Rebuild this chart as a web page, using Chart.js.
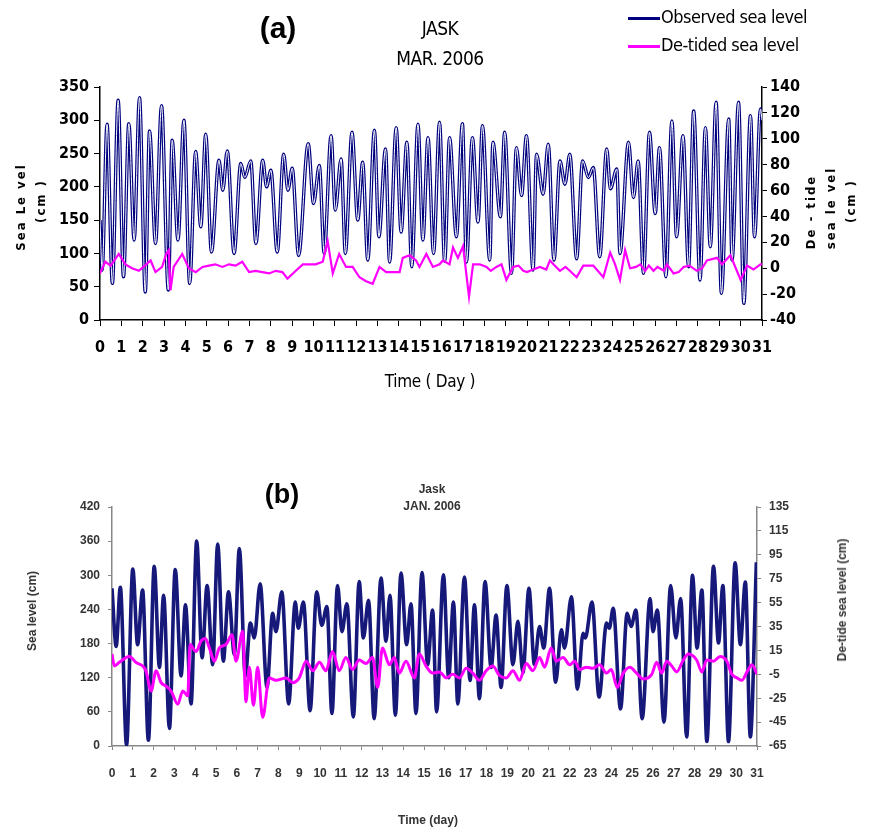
<!DOCTYPE html>
<html>
<head>
<meta charset="utf-8">
<script src="https://cdn.jsdelivr.net/npm/chart.js@4.4.1/dist/chart.umd.min.js"></script>
<style>
  body { margin: 0; background: #fff; }
  #page { position: relative; width: 872px; height: 833px; overflow: hidden; background: #fff; }
  canvas { position: absolute; left: 0; }
  .t { position: absolute; white-space: nowrap; transform: translate(-50%, -50%); }
  .na { font-family: 'Liberation Sans Narrow', 'DejaVu Sans Condensed', sans-serif; color: #000; }
  .ar { font-family: 'Liberation Sans', Arial, sans-serif; color: #333; font-weight: bold; }
  .rot { transform: translate(-50%, -50%) rotate(-90deg); }
  .leg { position: absolute; height: 3px; width: 32px; }
</style>
</head>
<body>
<div id="page">
  <canvas id="chartA" width="872" height="400" style="top:0"></canvas>
  <canvas id="chartB" width="872" height="403" style="top:430px"></canvas>

  <!-- panel (a) texts -->
  <div class="t" style="left:278px;top:28px;font:bold 30px 'Liberation Sans',Arial,sans-serif">(a)</div>
  <div class="t na" style="left:440px;top:28px;font-size:19px;letter-spacing:-0.5px">JASK</div>
  <div class="t na" style="left:440px;top:58px;font-size:19px;letter-spacing:-0.5px">MAR. 2006</div>
  <div class="leg" style="left:628px;top:17px;background:#00007f"></div>
  <div class="na" style="position:absolute;left:661px;top:6px;font-size:18px;letter-spacing:-0.5px">Observed sea level</div>
  <div class="leg" style="left:628px;top:45px;background:#ff00ff"></div>
  <div class="na" style="position:absolute;left:661px;top:34px;font-size:18px;letter-spacing:-0.5px">De-tided sea level</div>
  <div class="t na rot" style="left:20px;top:207px;font-size:13px;font-weight:bold;letter-spacing:2px">Sea Le vel</div>
  <div class="t na rot" style="left:40px;top:201px;font-size:13px;font-weight:bold;letter-spacing:2px">(cm )</div>
  <div class="t na rot" style="left:810px;top:212px;font-size:13px;font-weight:bold;letter-spacing:2px">De - tide</div>
  <div class="t na rot" style="left:830px;top:208px;font-size:13px;font-weight:bold;letter-spacing:2px">sea le vel</div>
  <div class="t na rot" style="left:850px;top:201px;font-size:13px;font-weight:bold;letter-spacing:2px">(cm )</div>
  <div class="t na" style="left:430px;top:381px;font-size:17px;letter-spacing:-0.3px">Time ( Day )</div>

  <!-- panel (b) texts -->
  <div class="t" style="left:282px;top:494px;font:bold 27px 'Liberation Sans',Arial,sans-serif">(b)</div>
  <div class="t ar" style="left:432px;top:489px;font-size:12px">Jask</div>
  <div class="t ar" style="left:432px;top:506px;font-size:12px">JAN. 2006</div>
  <div class="t ar rot" style="left:32px;top:611px;font-size:12px">Sea level (cm)</div>
  <div class="t ar rot" style="left:842px;top:600px;font-size:12px">De-tide sea level (cm)</div>
  <div class="t ar" style="left:428px;top:820px;font-size:12px">Time (day)</div>
</div>

<script>
// (a) JASK, March 2006 - observed sea level (cm), turning points
const obsDayA = [
  0, 0.1, 0.33, 0.58, 0.85, 1.1, 1.35, 1.6, 1.85, 2.12,
  2.32, 2.6, 2.88, 3.2, 3.38, 3.65, 3.93, 4.2, 4.48, 4.72,
  4.95, 5.22, 5.57, 5.75, 5.96, 6.28, 6.59, 6.78, 7.06, 7.3,
  7.62, 7.8, 8.0, 8.3, 8.6, 8.8, 9.0, 9.3, 9.75, 10.0,
  10.27, 10.5, 10.82, 11.02, 11.29, 11.49, 11.8, 12.07, 12.3, 12.54,
  12.85, 13.06, 13.37, 13.56, 13.87, 14.1, 14.37, 14.6, 14.89, 15.12,
  15.36, 15.62, 15.9, 16.14, 16.37, 16.69, 16.97, 17.16, 17.44, 17.7,
  17.91, 18.25, 18.4, 18.75, 18.95, 19.27, 19.5, 19.74, 19.97, 20.28,
  20.44, 20.75, 20.99, 21.26, 21.54, 21.77, 22.0, 22.32, 22.6, 22.87,
  23.1, 23.4, 23.73, 23.9, 24.2, 24.35, 24.75, 24.98, 25.2, 25.45,
  25.73, 26.0, 26.2, 26.5, 26.78, 27.0, 27.3, 27.56, 27.8, 28.1,
  28.35, 28.58, 28.85, 29.1, 29.44, 29.6, 29.9, 30.15, 30.46, 30.65,
  30.93, 31
];
const obsValA = [
  150, 75, 294, 55, 330, 65, 295, 120, 334, 42,
  284, 115, 322, 45, 270, 120, 300, 55, 253, 140,
  279, 102, 240, 195, 254, 100, 235, 214, 239, 115,
  240, 200, 225, 102, 249, 195, 228, 97, 265, 175,
  232, 100, 277, 165, 242, 100, 282, 150, 237, 90,
  285, 125, 257, 87, 289, 132, 267, 80, 294, 120,
  274, 100, 297, 88, 274, 125, 295, 87, 274, 147,
  292, 90, 267, 155, 282, 70, 259, 187, 277, 75,
  249, 189, 264, 90, 239, 204, 249, 92, 239, 214,
  229, 95, 257, 197, 227, 100, 267, 184, 239, 70,
  282, 160, 259, 65, 299, 125, 277, 80, 314, 60,
  289, 110, 327, 40, 302, 90, 327, 25, 307, 125,
  317, 300
];
// (a) de-tided sea level (cm)
const tideDayA = [
  0, 0.25, 0.5, 0.88, 1.19, 1.5, 1.82, 2.1, 2.37, 2.6,
  2.91, 3.1, 3.22, 3.3, 3.45, 3.85, 4.16, 4.48, 4.8, 5.1,
  5.4, 5.73, 6.04, 6.35, 6.66, 6.98, 7.29, 7.6, 7.92, 8.23,
  8.54, 8.78, 9.17, 9.5, 9.8, 10.1, 10.43, 10.66, 10.9, 11.2,
  11.52, 11.83, 12.15, 12.46, 12.77, 13.09, 13.4, 13.71, 14.03, 14.18,
  14.5, 14.8, 14.96, 15.28, 15.59, 15.9, 16.06, 16.37, 16.53, 16.76,
  17.0, 17.28, 17.47, 17.78, 18.1, 18.3, 18.56, 18.8, 19.03, 19.35,
  19.6, 19.82, 20.0, 20.28, 20.6, 20.9, 21.07, 21.3, 21.54, 21.8,
  22.0, 22.32, 22.63, 23.1, 23.57, 23.89, 24.12, 24.35, 24.59, 24.82,
  25.1, 25.3, 25.53, 25.7, 25.92, 26.1, 26.4, 26.55, 26.86, 27.1,
  27.33, 27.6, 27.95, 28.2, 28.42, 28.89, 29.13, 29.52, 30.0, 30.3,
  30.6, 30.93, 31
];
const tideValA = [
  -4, 5, 2, 11, 3, 0, -2, 2, 6, -3,
  1, 11, 14, -17, 1, 11, 0, -3, 1, 2,
  3, 1, 3, 2, 5, -3, -2, -3, -4, -2,
  -3, -8, -2, 3, 3, 3, 5, 21, -4, 11,
  1, 1, -7, -10, -12, 1, -3, -3, -3, 8,
  10, 6, 1, 11, 1, 3, 6, 3, 16, 8,
  17, -22, 3, 3, 1, -2, 1, 3, -9, 1,
  2, -2, -3, -1, 1, -1, 6, 2, -2, 1,
  -2, -7, 2, 2, -7, 12, 3, -9, 14, 0,
  1, 3, -2, 2, -2, 1, -2, 3, -4, -3,
  1, 2, -2, 0, 6, 8, 3, 10, -9, 2,
  -1, 3, 3
];

// (b) Jask, January 2006 - observed sea level (cm)
const obsDayB = [
  0, 0.2, 0.4, 0.7, 1.0, 1.23, 1.47, 1.75, 2.03, 2.28,
  2.48, 2.76, 3.04, 3.32, 3.53, 3.8, 4.07, 4.33, 4.57, 4.84,
  5.08, 5.35, 5.6, 5.88, 6.12, 6.41, 6.65, 6.84, 7.12, 7.45,
  7.72, 7.88, 8.16, 8.49, 8.81, 8.95, 9.2, 9.52, 9.84, 10.08,
  10.33, 10.57, 10.84, 11.05, 11.29, 11.6, 11.88, 12.08, 12.33, 12.6,
  12.93, 13.17, 13.36, 13.62, 13.89, 14.16, 14.37, 14.61, 14.9, 15.17,
  15.41, 15.6, 15.93, 16.18, 16.41, 16.62, 16.94, 17.21, 17.42, 17.66,
  17.93, 18.22, 18.46, 18.7, 18.98, 19.27, 19.51, 19.75, 20.04, 20.3,
  20.55, 20.75, 21.03, 21.32, 21.6, 21.75, 22.08, 22.37, 22.64, 22.75,
  23.07, 23.41, 23.77, 23.9, 24.09, 24.44, 24.76, 24.95, 25.18, 25.48,
  25.86, 26.0, 26.21, 26.53, 26.85, 27.1, 27.33, 27.62, 27.9, 28.12,
  28.35, 28.59, 28.91, 29.15, 29.36, 29.63, 29.95, 30.2, 30.44, 30.68,
  30.97
];
const obsValB = [
  277, 175, 279, 2, 311, 178, 274, 10, 316, 138,
  265, 31, 310, 123, 248, 74, 360, 155, 282, 143,
  355, 149, 271, 161, 347, 123, 216, 190, 285, 103,
  233, 201, 271, 74, 253, 207, 253, 62, 271, 212,
  245, 57, 282, 201, 250, 51, 289, 190, 256, 48,
  295, 184, 265, 54, 304, 178, 250, 57, 305, 143,
  239, 60, 301, 120, 253, 74, 297, 115, 248, 83,
  289, 138, 230, 103, 282, 143, 219, 129, 277, 143,
  210, 172, 277, 112, 204, 172, 262, 100, 198, 190,
  253, 86, 216, 207, 242, 65, 233, 210, 239, 48,
  259, 201, 239, 42, 282, 190, 259, 16, 300, 172,
  274, 8, 316, 181, 282, 8, 322, 178, 288, 16,
  323
];
// (b) de-tided sea level (cm)
const tideDayB = [
  0, 0.11, 0.35, 0.83, 1.15, 1.63, 1.88, 2.12, 2.36, 2.6,
  2.84, 3.16, 3.4, 3.64, 3.75, 4.04, 4.28, 4.49, 4.68, 4.92,
  5.16, 5.48, 5.77, 5.96, 6.28, 6.44, 6.6, 6.8, 7.0, 7.24,
  7.56, 7.88, 8.37, 8.69, 9.0, 9.33, 9.65, 9.97, 10.28, 10.6,
  10.92, 11.24, 11.56, 11.88, 12.2, 12.52, 12.77, 13.0, 13.33, 13.57,
  13.81, 14.13, 14.53, 14.77, 15.09, 15.41, 15.74, 16.06, 16.38, 16.7,
  17.02, 17.34, 17.66, 17.98, 18.3, 18.62, 18.95, 19.27, 19.59, 19.91,
  20.23, 20.55, 20.79, 21.11, 21.35, 21.68, 22.0, 22.24, 22.48, 22.8,
  23.12, 23.44, 23.77, 24.0, 24.28, 24.57, 24.89, 25.21, 25.53, 25.94,
  26.18, 26.42, 26.66, 26.9, 27.14, 27.46, 27.7, 28.1, 28.35, 28.59,
  28.91, 29.23, 29.55, 29.79, 30.04, 30.28, 30.52, 30.76, 31.0
];
const tideValB = [
  12, 2, 5, 10, 5, -2, -19, -2, -12, -15,
  -19, -30, -19, -23, 20, 14, 23, 25, 17, 6,
  17, 20, 28, 6, 31, -28, 1, -31, 1, -41,
  -8, -10, -8, -12, -8, 6, -2, 5, -2, 14,
  -2, 9, -1, 7, 4, 9, -16, 17, 3, 9,
  -4, 6, -8, 12, 2, -4, -3, -8, -5, -8,
  0, -4, -10, -2, 2, -6, -8, -2, -10, 4,
  -2, 9, 1, 17, 6, 9, 3, 6, -1, 1,
  0, 3, -4, -1, -16, -4, 1, -4, -9, -5,
  5, -4, 6, 2, -3, 7, 12, 7, -3, 7,
  6, 10, 6, -5, -8, -10, -3, 3, -5
];

const pts = (days, vals) => days.map((d, i) => ({ x: d, y: vals[i] }));
const narrow = "'Liberation Sans Narrow', 'DejaVu Sans Condensed', sans-serif";
const arial = "'Liberation Sans', Arial, sans-serif";

// panel (a): observed line drawn hollow (navy edge, white core) like the original
new Chart(document.getElementById('chartA'), {
  type: 'line',
  data: {
    datasets: [
      {
        label: 'De-tided sea level',
        data: pts(tideDayA, tideValA),
        yAxisID: 'yR',
        borderColor: '#ff00ff',
        borderWidth: 2.2,
        pointRadius: 0,
        tension: 0,
        order: 0
      },
      {
        label: 'Observed core',
        data: pts(obsDayA, obsValA),
        yAxisID: 'y',
        borderColor: '#ffffff',
        borderWidth: 1,
        pointRadius: 0,
        cubicInterpolationMode: 'monotone',
        order: 1
      },
      {
        label: 'Observed sea level',
        data: pts(obsDayA, obsValA),
        yAxisID: 'y',
        borderColor: '#00007f',
        borderWidth: 3.4,
        pointRadius: 0,
        cubicInterpolationMode: 'monotone',
        order: 2
      }
    ]
  },
  options: {
    responsive: false,
    animation: false,
    events: [],
    layout: { padding: { top: 87, left: 0, right: 0, bottom: 0 } },
    plugins: { legend: { display: false }, tooltip: { enabled: false } },
    scales: {
      x: {
        type: 'linear', min: 0, max: 31,
        afterFit: (s) => { s.height = 80; },
        border: { color: '#000', width: 1.5 },
        grid: { drawOnChartArea: false, color: '#000', tickLength: 6 },
        ticks: { stepSize: 1, autoSkip: false, maxRotation: 0, color: '#000', padding: 12,
                 font: { family: narrow, size: 16, weight: 'bold' } }
      },
      y: {
        position: 'left', min: 0, max: 350,
        afterFit: (s) => { s.width = 100; },
        border: { color: '#000', width: 1.5 },
        grid: { drawOnChartArea: false, color: '#000', tickLength: 6 },
        ticks: { stepSize: 50, color: '#000', padding: 5,
                 font: { family: narrow, size: 16, weight: 'bold' } }
      },
      yR: {
        position: 'right', min: -40, max: 140,
        afterFit: (s) => { s.width = 110; },
        border: { color: '#000', width: 1.5 },
        grid: { drawOnChartArea: false, color: '#000', tickLength: 5 },
        ticks: { stepSize: 20, color: '#000', padding: 3,
                 font: { family: narrow, size: 16, weight: 'bold' } }
      }
    }
  }
});

// panel (b)
new Chart(document.getElementById('chartB'), {
  type: 'line',
  data: {
    datasets: [
      {
        label: 'De-tided sea level',
        data: pts(tideDayB, tideValB),
        yAxisID: 'yR',
        borderColor: '#ff00ff',
        borderWidth: 3,
        pointRadius: 0,
        cubicInterpolationMode: 'monotone',
        order: 0
      },
      {
        label: 'Observed sea level',
        data: pts(obsDayB, obsValB),
        yAxisID: 'y',
        borderColor: '#16197a',
        borderWidth: 3.6,
        pointRadius: 0,
        cubicInterpolationMode: 'monotone',
        order: 1
      }
    ]
  },
  options: {
    responsive: false,
    animation: false,
    events: [],
    layout: { padding: { top: 77, left: 0, right: 0, bottom: 0 } },
    plugins: { legend: { display: false }, tooltip: { enabled: false } },
    scales: {
      x: {
        type: 'linear', min: 0, max: 31,
        afterFit: (s) => { s.height = 87; },
        border: { color: '#888', width: 1.5 },
        grid: { drawOnChartArea: false, color: '#888', tickLength: 4 },
        ticks: { stepSize: 1, autoSkip: false, maxRotation: 0, color: '#333', padding: 16,
                 font: { family: arial, size: 12, weight: 'bold' } }
      },
      y: {
        position: 'left', min: 0, max: 420,
        afterFit: (s) => { s.width = 112; },
        border: { color: '#888', width: 1.5 },
        grid: { drawOnChartArea: false, color: '#888', tickLength: 4 },
        ticks: { stepSize: 60, color: '#333', padding: 8,
                 font: { family: arial, size: 12, weight: 'bold' } }
      },
      yR: {
        position: 'right', min: -65, max: 135,
        afterFit: (s) => { s.width = 115; },
        border: { color: '#888', width: 1.5 },
        grid: { drawOnChartArea: false, color: '#888', tickLength: 4 },
        ticks: { stepSize: 20, color: '#333', padding: 8,
                 font: { family: arial, size: 12, weight: 'bold' } }
      }
    }
  }
});
</script>
</body>
</html>
